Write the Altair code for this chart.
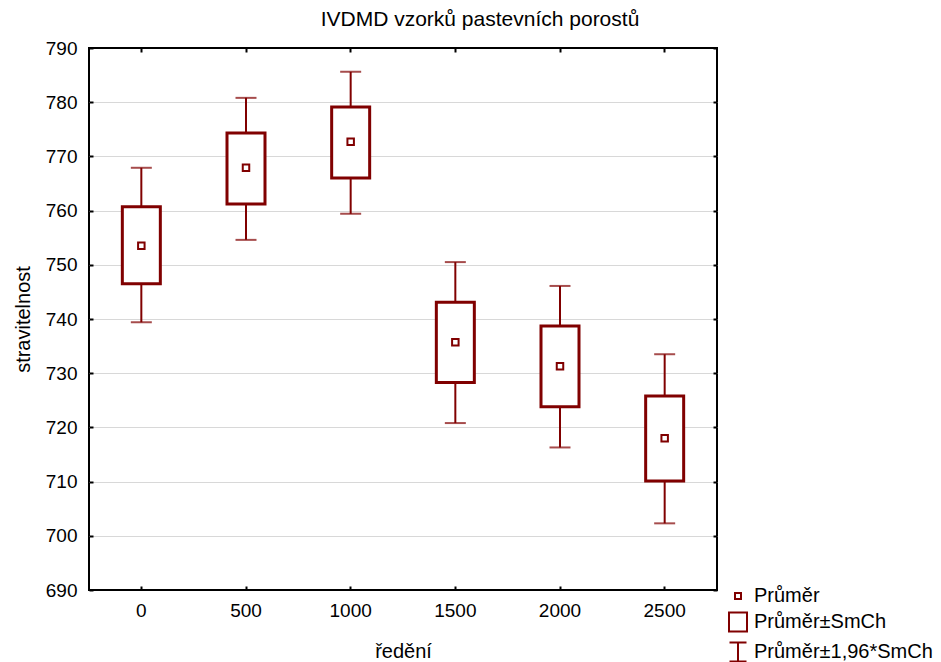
import altair as alt
import pandas as pd

categories = ["0", "500", "1000", "1500", "2000", "2500"]
means = [753.5, 767.9, 772.7, 735.7, 731.3, 718.0]
box_low = [746.5, 761.2, 766.0, 728.3, 723.8, 710.1]
box_high = [760.7, 774.3, 779.1, 743.1, 738.7, 725.8]
whisker_low = [739.4, 754.6, 759.4, 720.8, 716.3, 702.3]
whisker_high = [767.9, 780.8, 785.6, 750.5, 746.1, 733.5]
y_ticks = [690, 700, 710, 720, 730, 740, 750, 760, 770, 780, 790]
legend_labels = ["Průměr", "Průměr±SmCh", "Průměr±1,96*SmCh"]

RED = "#800000"
FONT = "Liberation Sans"

df = pd.DataFrame({
    "cat": categories,
    "mean": means,
    "blo": box_low,
    "bhi": box_high,
    "wlo": whisker_low,
    "whi": whisker_high,
})
legend_df = pd.DataFrame({"series": legend_labels, "cat": categories[0], "mean": means[0]})

xscale = alt.Scale(type="band", domain=categories, paddingInner=0, paddingOuter=0)
yscale = alt.Scale(domain=[690, 790], nice=False, zero=False)


def X(axis):
    return alt.X("cat:N", sort=categories, scale=xscale, axis=axis)


axis_left = alt.Axis(
    orient="left", values=y_ticks, title="stravitelnost", offset=-4, tickSize=4,
    tickWidth=2, tickColor="black", domain=False, grid=True, gridColor="#d8d8d8",
    gridWidth=1,
    gridOpacity={"condition": {"test": "datum.value <= 690 || datum.value >= 790", "value": 0}, "value": 1},
    labelPadding=12, titlePadding=12, labelFontSize=19, titleFontSize=20,
    labelFont=FONT, titleFont=FONT, labelColor="black", titleColor="black",
    titleFontWeight="normal",
)
axis_right = alt.Axis(
    orient="right", values=y_ticks, title=None, labels=False, offset=-4, tickSize=4,
    tickWidth=2, tickColor="black", domain=False, grid=False,
)
axis_bottom = alt.Axis(
    orient="bottom", title="ředění", labelAngle=0, offset=-4, tickSize=4,
    tickWidth=2, tickColor="black", domain=False, grid=False, labelPadding=11,
    titlePadding=21, labelFontSize=19, titleFontSize=20, labelFont=FONT,
    titleFont=FONT, labelColor="black", titleColor="black", titleFontWeight="normal",
)
axis_top = alt.Axis(
    orient="top", title=None, labels=False, offset=-4, tickSize=4,
    tickWidth=2, tickColor="black", domain=False, grid=False,
)

base = alt.Chart(df)

whisk = base.mark_rule(color=RED, strokeWidth=2).encode(
    x=X(axis_top),
    y=alt.Y("wlo:Q", scale=yscale, axis=axis_right),
    y2="whi:Q",
)
cap_lo = base.mark_tick(color=RED, size=21, thickness=2, orient="horizontal").encode(
    x=X(None), y=alt.Y("wlo:Q", scale=yscale, axis=None)
)
cap_hi = base.mark_tick(color=RED, size=21, thickness=2, orient="horizontal").encode(
    x=X(None), y=alt.Y("whi:Q", scale=yscale, axis=None)
)
box = base.mark_bar(fill="white", stroke=RED, strokeWidth=3, width=38).encode(
    x=X(axis_bottom),
    y=alt.Y("blo:Q", scale=yscale, axis=axis_left),
    y2="bhi:Q",
)
mean = base.mark_square(filled=False, color=RED, size=42, strokeWidth=2, opacity=1).encode(
    x=X(None), y=alt.Y("mean:Q", scale=yscale, axis=None)
)

paths = [
    "M-0.3,-0.3H0.3V0.3H-0.3Z",
    "M-0.9,-0.95H0.9V0.95H-0.9Z",
    "M-0.85,-0.95H0.85M0,-0.95V0.95M-0.85,0.95H0.85",
]
legend_layer = alt.Chart(legend_df).mark_point(opacity=0, filled=False, color=RED).encode(
    x=X(None),
    y=alt.Y("mean:Q", scale=yscale, axis=None),
    shape=alt.Shape(
        "series:N",
        scale=alt.Scale(domain=legend_labels, range=paths),
        legend=alt.Legend(
            orient="none", legendX=638, legendY=537, title=None, symbolSize=400,
            symbolStrokeWidth=2, symbolStrokeColor=RED, symbolFillColor="transparent",
            symbolOpacity=1, labelFontSize=20, labelFont=FONT, labelColor="black",
            labelOffset=5, rowPadding=2, padding=0, labelLimit=0,
        ),
    ),
)

chart = (
    alt.layer(whisk, cap_lo, cap_hi, box, mean, legend_layer)
    .resolve_axis(x="independent", y="independent")
    .properties(
        width=628,
        height=542,
        title=alt.TitleParams(
            "IVDMD vzorků pastevních porostů", fontSize=21, font=FONT,
            fontWeight="normal", color="black", offset=9, dx=77, anchor="middle",
        ),
        padding={"left": 89, "top": 48, "right": 224, "bottom": 72},
        autosize=alt.AutoSizeParams(type="none"),
        background="white",
    )
    .configure_view(stroke="black", strokeWidth=2)
)

chart.save("out.html", embed_options={"renderer": "svg", "actions": False})
